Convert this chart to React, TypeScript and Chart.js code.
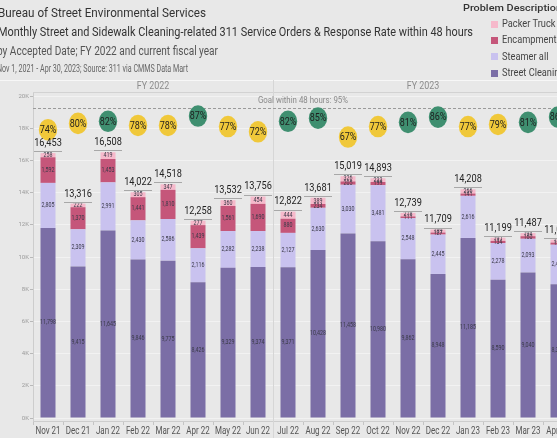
import React, { useEffect, useRef } from 'react';
import { Chart, registerables } from 'chart.js';

Chart.register(...registerables);

// ---------- data ----------
const MONTHS = ['Nov 21', 'Dec 21', 'Jan 22', 'Feb 22', 'Mar 22', 'Apr 22', 'May 22', 'Jun 22', 'Jul 22', 'Aug 22', 'Sep 22', 'Oct 22', 'Nov 22', 'Dec 22', 'Jan 23', 'Feb 23', 'Mar 23', 'Apr 23'];
const STREET_CLEANING = [11798, 9415, 11645, 9846, 9775, 8426, 9329, 9374, 9371, 10428, 11458, 10980, 9862, 8948, 11185, 8590, 9040, 8312];
const STEAMER_ALL = [2805, 2309, 2991, 2430, 2586, 2116, 2282, 2238, 2127, 2630, 3030, 3481, 2548, 2445, 2616, 2278, 2093, 2451];
const ENCAMPMENT = [1592, 1370, 1453, 1441, 1810, 1439, 1561, 1690, 880, 234, 205, 199, 111, 127, 141, 134, 160, 132];
const PACKER_TRUCK = [258, 222, 419, 305, 347, 277, 360, 454, 444, 389, 326, 233, 218, 189, 266, 197, 194, 181];
const RESPONSE_RATE = [74, 80, 82, 78, 78, 87, 77, 72, 82, 85, 67, 77, 81, 86, 77, 79, 81, 86];
const FISCAL_YEARS = ['FY 2022', 'FY 2023'];
const FY_MONTH_COUNTS = [8, 10];
const GOAL_RATE = 95;
const Y_TICKS = [0, 2000, 4000, 6000, 8000, 10000, 12000, 14000, 16000, 18000, 20000];
const TITLE_LINES = [
  'Bureau of Street Environmental Services',
  'Monthly Street and Sidewalk Cleaning-related 311 Service Orders & Response Rate within 48 hours',
  'by Accepted Date; FY 2022 and current fiscal year',
  'Nov 1, 2021 - Apr 30, 2023; Source: 311 via CMMS Data Mart',
];
const LEGEND_TITLE = 'Problem Description';

// ---------- styles ----------
const BG = '#e8e8e8';
const COLORS = {
  street: '#7b6ea6',
  steamer: '#c9c2ef',
  encamp: '#c5567a',
  packer: '#f6b9cb',
  good: '#3f8f70',
  warn: '#f0c83a',
};
const FONT = 'Roboto';
const W = 575;
const H = 438;

function drawText(ctx: CanvasRenderingContext2D, s: string, x: number, y: number, font: string, color: string, align: CanvasTextAlign = 'center', squeeze = 0.85) {
  ctx.save();
  ctx.font = font;
  ctx.fillStyle = color;
  ctx.textBaseline = 'middle';
  ctx.textAlign = align;
  ctx.translate(x, y);
  ctx.scale(squeeze, 1);
  ctx.fillText(s, 0, 0);
  ctx.restore();
}

function drawFit(ctx: CanvasRenderingContext2D, s: string, x: number, y: number, font: string, color: string, width: number, align: CanvasTextAlign = 'left') {
  ctx.save();
  ctx.font = font;
  const natural = ctx.measureText(s).width;
  ctx.restore();
  drawText(ctx, s, x, y, font, color, align, width / natural);
}

const fmt = (v: number) => v.toLocaleString('en-US');

export default function App() {
  const ref = useRef<HTMLCanvasElement | null>(null);

  useEffect(() => {
    const canvas = ref.current;
    if (!canvas) return;

    const decor = {
      id: 'decor',
      beforeDraw(chart: any) {
        const ctx = chart.ctx as CanvasRenderingContext2D;
        ctx.save();
        ctx.fillStyle = BG;
        ctx.fillRect(0, 0, chart.width, chart.height);
        ctx.restore();
      },
      beforeDatasetsDraw(chart: any) {
        const ctx = chart.ctx as CanvasRenderingContext2D;
        const xs = chart.scales.x;
        const area = chart.chartArea;
        const cat = xs.width / MONTHS.length;
        ctx.save();
        ctx.strokeStyle = '#f7f7f7';
        ctx.lineWidth = 1;
        ctx.beginPath();
        ctx.moveTo(0, 80.5);
        ctx.lineTo(chart.width, 80.5);
        ctx.stroke();
        ctx.strokeStyle = '#d2d2d2';
        ctx.beginPath();
        ctx.moveTo(area.left, area.top + 0.5);
        ctx.lineTo(area.right, area.top + 0.5);
        ctx.stroke();
        let start = 0;
        FISCAL_YEARS.forEach((fy, gi) => {
          const end = start + FY_MONTH_COUNTS[gi] - 1;
          const left = xs.getPixelForValue(start) - cat / 2;
          const right = xs.getPixelForValue(end) + cat / 2;
          drawText(ctx, fy, (left + right) / 2, 86.5, `10.5px ${FONT}`, '#8c8c8c', 'center', 0.85);
          if (gi > 0) {
            ctx.strokeStyle = '#d6d6d6';
            ctx.beginPath();
            ctx.moveTo(Math.round(left) + 0.5, 80);
            ctx.lineTo(Math.round(left) + 0.5, chart.height);
            ctx.stroke();
          }
          start = end + 1;
        });
        ctx.restore();
      },
      afterDatasetsDraw(chart: any) {
        const ctx = chart.ctx as CanvasRenderingContext2D;
        const ys = chart.scales.y;
        const y2 = chart.scales.y2;
        const area = chart.chartArea;
        const cat = chart.scales.x.width / MONTHS.length;

        for (let d = 0; d < 4; d++) {
          const meta = chart.getDatasetMeta(d);
          const vals = chart.data.datasets[d].data as number[];
          meta.data.forEach((el: any, i: number) => {
            drawText(ctx, fmt(vals[i]), el.x, (el.y + el.base) / 2, `6.5px ${FONT}`, '#3a3a48', 'center', 0.82);
          });
        }

        const gy = Math.round(y2.getPixelForValue(GOAL_RATE)) + 0.5;
        ctx.save();
        ctx.strokeStyle = '#9a9a9a';
        ctx.setLineDash([3, 2]);
        ctx.lineWidth = 1;
        ctx.beginPath();
        ctx.moveTo(area.left, gy);
        ctx.lineTo(area.right, gy);
        ctx.stroke();
        ctx.restore();
        drawFit(ctx, `Goal within 48 hours: ${GOAL_RATE}%`, (area.left + area.right) / 2, gy - 7.5, `9.5px ${FONT}`, '#8a8a8a', 90, 'center');

        const rateMeta = chart.getDatasetMeta(4);
        rateMeta.data.forEach((el: any, i: number) => {
          const r = RESPONSE_RATE[i];
          ctx.save();
          ctx.fillStyle = r > 80 ? COLORS.good : COLORS.warn;
          ctx.beginPath();
          ctx.ellipse(el.x, el.y, 9.2, 10.8, 0, 0, Math.PI * 2);
          ctx.fill();
          ctx.restore();
          drawText(ctx, `${r}%`, el.x, el.y + 0.5, `11px ${FONT}`, '#1e1e1e', 'center', 0.82);
        });

        const baseMeta = chart.getDatasetMeta(0);
        baseMeta.data.forEach((el: any, i: number) => {
          const total = STREET_CLEANING[i] + STEAMER_ALL[i] + ENCAMPMENT[i] + PACKER_TRUCK[i];
          const ty = ys.getPixelForValue(total);
          ctx.save();
          ctx.strokeStyle = '#a8a8a8';
          ctx.lineWidth = 1;
          ctx.beginPath();
          ctx.moveTo(el.x - cat / 2 + 1, Math.round(ty - 2) + 0.5);
          ctx.lineTo(el.x + cat / 2 - 1, Math.round(ty - 2) + 0.5);
          ctx.stroke();
          ctx.restore();
          drawText(ctx, fmt(total), el.x, ty - 10, `11.5px ${FONT}`, '#222', 'center', 0.8);
        });
      },
      afterDraw(chart: any) {
        const ctx = chart.ctx as CanvasRenderingContext2D;
        const xs = chart.scales.x;
        MONTHS.forEach((m, i) => {
          drawText(ctx, m, xs.getPixelForValue(i), 431.5, `10px ${FONT}`, '#555', 'center', 0.8);
        });
        drawFit(ctx, TITLE_LINES[0], -2, 14, `12px ${FONT}`, '#333', 208);
        drawFit(ctx, TITLE_LINES[1], -2, 33, `12px ${FONT}`, '#333', 475);
        drawFit(ctx, TITLE_LINES[2], -3, 52, `12px ${FONT}`, '#555', 221);
        drawFit(ctx, TITLE_LINES[3], -3, 69, `10px ${FONT}`, '#666', 191);
        drawFit(ctx, LEGEND_TITLE, 463, 8.5, `500 9px ${FONT}`, '#333', 99);
        const items = [3, 2, 1, 0].map((d) => chart.data.datasets[d]);
        items.forEach((ds: any, k: number) => {
          const cy = 24 + k * 16.4;
          ctx.save();
          ctx.fillStyle = ds.backgroundColor;
          ctx.fillRect(491, Math.round(cy - 3.5), 7, 7);
          ctx.restore();
          drawText(ctx, ds.label, 502, cy, `11px ${FONT}`, '#444', 'left', 0.84);
        });
      },
    };

    const barDs = (label: string, data: number[], color: string) => ({
      type: 'bar' as const,
      label,
      data,
      backgroundColor: color,
      borderWidth: 0,
      barPercentage: 0.5,
      categoryPercentage: 1.0,
      yAxisID: 'y',
      order: 2,
    });

    const chart = new Chart(canvas, {
      type: 'bar',
      data: {
        labels: MONTHS,
        datasets: [
          barDs('Street Cleaning', STREET_CLEANING, COLORS.street),
          barDs('Steamer all', STEAMER_ALL, COLORS.steamer),
          barDs('Encampment', ENCAMPMENT, COLORS.encamp),
          barDs('Packer Truck', PACKER_TRUCK, COLORS.packer),
          {
            type: 'line' as const,
            label: 'Response Rate',
            data: RESPONSE_RATE,
            yAxisID: 'y2',
            showLine: false,
            pointRadius: 0,
            borderWidth: 0,
            order: 1,
          } as any,
        ],
      },
      options: {
        animation: false,
        responsive: false,
        maintainAspectRatio: false,
        devicePixelRatio: 1,
        layout: { padding: { top: 92, left: 0, right: 2, bottom: 0 } },
        plugins: { legend: { display: false }, tooltip: { enabled: false }, title: { display: false } },
        scales: {
          x: {
            stacked: true,
            offset: true,
            grid: { display: true, drawOnChartArea: false, offset: true, tickLength: 4, color: '#c4c4c4' },
            border: { display: true, color: '#cdcdcd' },
            ticks: { display: false },
            afterFit: (s: any) => { s.height = 17; },
          },
          y: {
            stacked: true,
            min: -186,
            max: 20250,
            afterBuildTicks: (axis: any) => { axis.ticks = Y_TICKS.map((v) => ({ value: v })); },
            ticks: {
              callback: (v: any) => `${Number(v) / 1000}K`,
              font: { size: 6, family: FONT },
              color: '#9a9a9a',
              padding: 1,
            },
            grid: { color: 'rgba(255,255,255,0.45)', tickLength: 3, tickColor: '#b8b8b8' },
            border: { display: true, color: '#cdcdcd' },
            afterFit: (s: any) => { s.width = 33; },
          },
          y2: { display: false, min: -203.5, max: 109.9 },
        },
      } as any,
      plugins: [decor],
    });

    return () => chart.destroy();
  }, []);

  return (
    <div style={{ position: 'fixed', left: 0, top: 0, width: 557, height: 438, overflow: 'hidden', background: BG }}>
      <canvas ref={ref} width={W} height={H} style={{ width: W, height: H, display: 'block' }} />
    </div>
  );
}
